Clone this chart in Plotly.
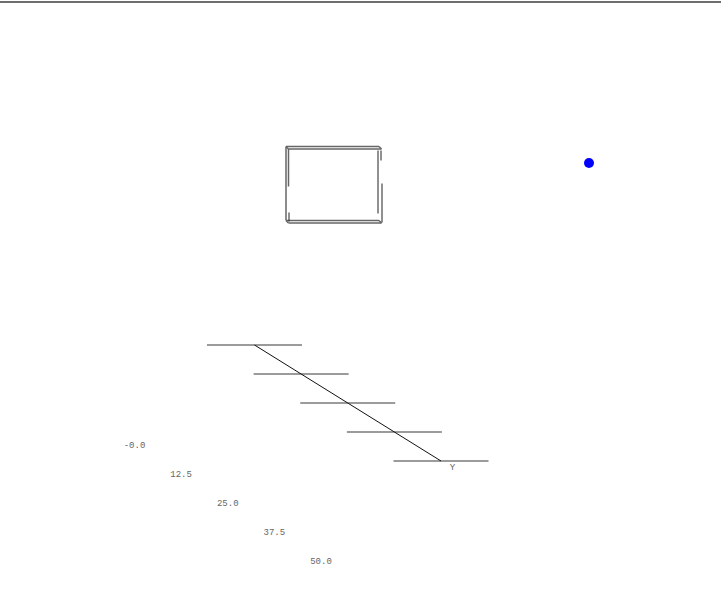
import plotly.graph_objects as go

# ---- data ----
y_ticks = [0, 12.5, 25, 37.5, 50]
y_tick_labels = ["-0.0", "12.5", "25.0", "37.5", "50.0"]
axis_title = "Y"
point_value = [1]

# ---- layout (pixel projection of the oblique Y axis) ----
W, H = 721, 607
origin = (254.5, 345.0)
unit = (186.5 / 50.0, 116.0 / 50.0)
tick_half = 47.5
label_off = (-120.0, 101.0)
title_off = (11.5, 6.5)


def proj(v):
    return origin[0] + v * unit[0], origin[1] + v * unit[1]


fig = go.Figure()

# top rule
fig.add_trace(go.Scatter(x=[0, W], y=[2, 2], mode="lines",
                         line=dict(color="#6e6e6e", width=2), hoverinfo="skip"))

# tick lines
tx, ty = [], []
for v in y_ticks:
    cx, cy = proj(v)
    tx += [cx - tick_half, cx + tick_half, None]
    ty += [cy, cy, None]
fig.add_trace(go.Scatter(x=tx, y=ty, mode="lines",
                         line=dict(color="#7a7a7a", width=1.6), hoverinfo="skip"))

# axis line
a0 = proj(y_ticks[0])
a1 = proj(y_ticks[-1])
fig.add_trace(go.Scatter(x=[a0[0], a1[0]], y=[a0[1], a1[1]], mode="lines",
                         line=dict(color="#111111", width=1), hoverinfo="skip"))

# tick labels
lx = [proj(v)[0] + label_off[0] for v in y_ticks]
ly = [proj(v)[1] + label_off[1] for v in y_ticks]
fig.add_trace(go.Scatter(x=lx, y=ly, mode="text", text=y_tick_labels,
                         textfont=dict(family="Liberation Mono", size=9, color="#666666"),
                         hoverinfo="skip"))
fig.add_trace(go.Scatter(x=[a1[0] + title_off[0]], y=[a1[1] + title_off[1]], mode="text",
                         text=[axis_title],
                         textfont=dict(family="Liberation Mono", size=9, color="#666666"),
                         hoverinfo="skip"))

# box (wireframe, drawn double)
L, T, R, B, d = 286.0, 146.5, 379.0, 220.5, 2.5
bx = [L, R, None, L + d, R + d, None,            # top
      L, L, None, L + d, L + d, None,            # left
      L, R, None, L + d, R + d, None,            # bottom
      R, R + d, None, L, L + d, None, R, R + d, None, L, L + d, None]
by = [T, T, None, T + d, T + d, None,
      T, B, None, T + d, T + 40, None,
      B, B, None, B + d, B + d, None,
      T, T + d, None, T, T + d, None, B, B + d, None, B, B + d, None]
fig.add_trace(go.Scatter(x=bx, y=by, mode="lines",
                         line=dict(color="#666666", width=1.5), hoverinfo="skip"))
sx = [R + 2, R + 2, None, R - 1, R - 1, None, R + 3, R + 3, None, L + 3, L + 3]
sy = [T + 4, T + 14, None, T + 4, T + 67, None, T + 37, B + 2, None, B - 8, B + 1]
fig.add_trace(go.Scatter(x=sx, y=sy, mode="lines",
                         line=dict(color="#222222", width=1), hoverinfo="skip"))

# point
fig.add_trace(go.Scatter(x=[589], y=[163], mode="markers", text=point_value,
                         marker=dict(color="#0000ff", size=10, line=dict(width=0))))

fig.update_layout(
    width=W, height=H, showlegend=False,
    margin=dict(l=0, r=0, t=0, b=0),
    paper_bgcolor="white", plot_bgcolor="white",
    xaxis=dict(range=[0, W], visible=False, fixedrange=True),
    yaxis=dict(range=[H, 0], visible=False, fixedrange=True),
)
fig.write_html(
    "out.html",
    config={"displayModeBar": False},
    post_script="document.body.style.margin='0';document.body.style.overflow='hidden';",
)
